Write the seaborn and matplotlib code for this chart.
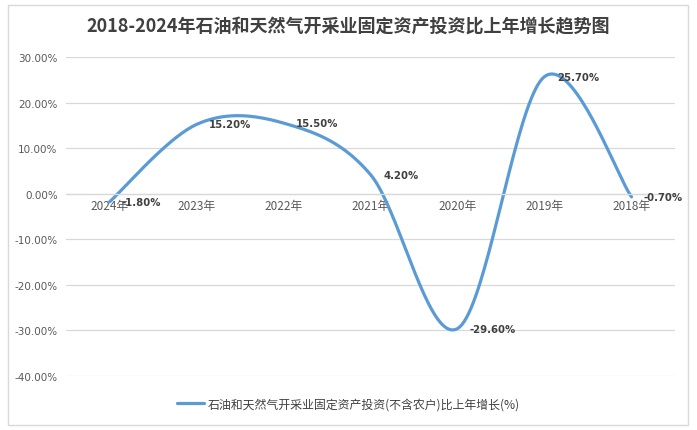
import numpy as np
import pandas as pd
import matplotlib.pyplot as plt
import seaborn as sns
from matplotlib.patches import Rectangle

# data (percent)
years = ['2024年', '2023年', '2022年', '2021年', '2020年', '2019年', '2018年']
growth = [-1.80, 15.20, 15.50, 4.20, -29.60, 25.70, -0.70]
y_ticks = [30, 20, 10, 0, -10, -20, -30, -40]

title = '2018-2024年石油和天然气开采业固定资产投资比上年增长趋势图'
series_name = '石油和天然气开采业固定资产投资(不含农户)比上年增长(%)'

sns.set_theme(style='white')
plt.rcParams['font.family'] = ['Noto Sans CJK SC', 'DejaVu Sans']
plt.rcParams['axes.unicode_minus'] = False

line_color = '#5B9BD5'
text_color = '#595959'


def smooth(xv, yv, n=40):
    # Excel-like smoothed line: cubic Bezier with Catmull-Rom control points
    px = np.r_[xv[0], xv, xv[-1]]
    py = np.r_[yv[0], yv, yv[-1]]
    out_x, out_y = [], []
    t = np.linspace(0, 1, n)
    for i in range(1, len(px) - 2):
        p0x, p1x, p2x, p3x = px[i - 1:i + 3]
        p0y, p1y, p2y, p3y = py[i - 1:i + 3]
        c1x, c1y = p1x + (p2x - p0x) / 6, p1y + (p2y - p0y) / 6
        c2x, c2y = p2x - (p3x - p1x) / 6, p2y - (p3y - p1y) / 6
        bx = (1 - t) ** 3 * p1x + 3 * (1 - t) ** 2 * t * c1x + 3 * (1 - t) * t ** 2 * c2x + t ** 3 * p2x
        by = (1 - t) ** 3 * p1y + 3 * (1 - t) ** 2 * t * c1y + 3 * (1 - t) * t ** 2 * c2y + t ** 3 * p2y
        out_x.extend(bx)
        out_y.extend(by)
    return np.array(out_x), np.array(out_y)


x = np.arange(len(years), dtype=float)
sx, sy = smooth(x, np.array(growth))
curve = pd.DataFrame({'x': sx, 'y': sy, 'name': series_name})

fig = plt.figure(figsize=(6.97, 4.31), dpi=100)
fig.patches.append(Rectangle((8 / 697, 1 - 426 / 431), 680 / 697, 420 / 431,
                             transform=fig.transFigure, fill=False,
                             edgecolor='#D9D9D9', linewidth=1))
ax = fig.add_axes([66 / 697, 1 - 377 / 431, 609 / 697, 319 / 431])

sns.lineplot(data=curve, x='x', y='y', hue='name', palette=[line_color],
             sort=False, estimator=None, linewidth=2.3, ax=ax)

# category axis crosses at 0 (set before tick styling, it resets the ticks)
for s in ['top', 'right', 'left']:
    ax.spines[s].set_visible(False)
ax.spines['bottom'].set_position(('data', 0))
ax.spines['bottom'].set_color('#D9D9D9')
ax.spines['bottom'].set_linewidth(0.9)

ax.set_xlim(-0.5, len(years) - 0.5)
ax.set_ylim(-40, 30)
ax.set_yticks(y_ticks)
ax.set_yticklabels([f'{v:.2f}%' for v in y_ticks], color=text_color, fontsize=7.5,
                   family='DejaVu Sans')
ax.set_xticks(x)
ax.set_xticklabels(years, color=text_color, fontsize=8.5)
ax.tick_params(axis='both', length=0)
ax.tick_params(axis='x', pad=4)
ax.tick_params(axis='y', pad=6)
ax.yaxis.grid(True, color='#D9D9D9', linewidth=0.9)
ax.set_axisbelow(True)
ax.set_xlabel('')
ax.set_ylabel('')

for xi, v in zip(x, growth):
    ax.annotate(f'{v:.2f}%', (xi, v), xytext=(9, 0), textcoords='offset points',
                ha='left', va='center', fontsize=7.3, fontweight='bold',
                color='#404040', family='DejaVu Sans')

fig.text(0.5, 1 - 27 / 431, title, ha='center', va='center', fontsize=13,
         fontweight='bold', color='#404040')

handles, labels = ax.get_legend_handles_labels()
ax.legend(handles, labels, loc='center', bbox_to_anchor=(0.5, 1 - 405 / 431),
          bbox_transform=fig.transFigure, frameon=False, fontsize=8.6,
          labelcolor='#404040', handlelength=2.3, handletextpad=0.3)

fig.savefig('out.png', dpi=100)
